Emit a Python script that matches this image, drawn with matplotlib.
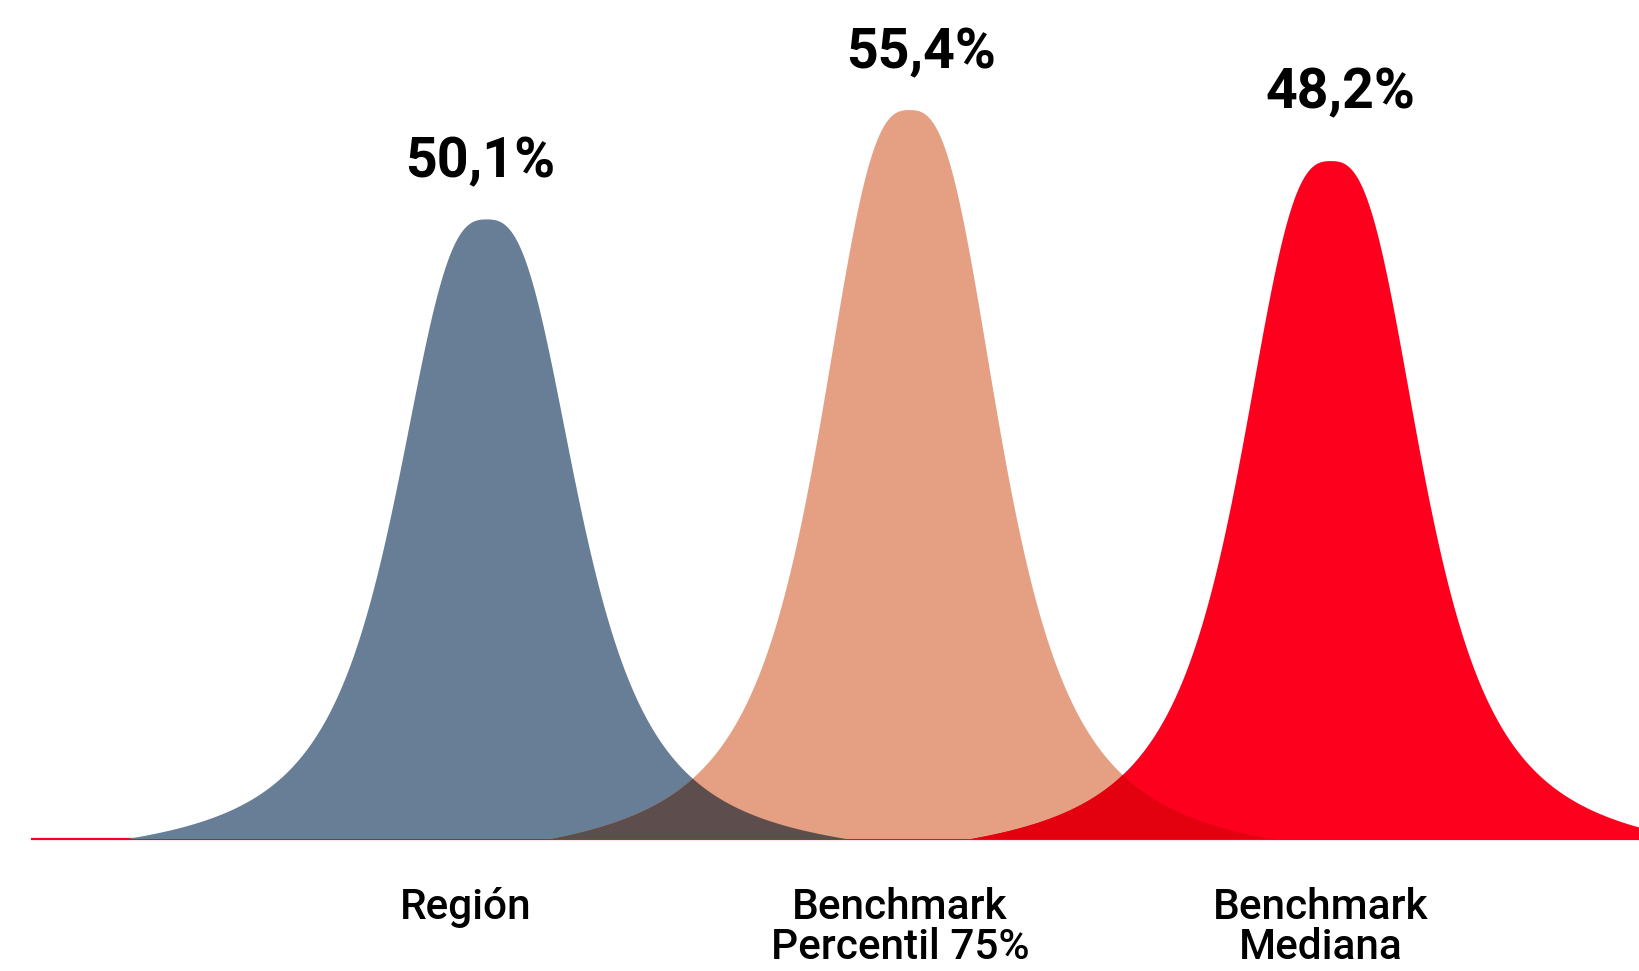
import matplotlib.pyplot as plt
import numpy as np

# distributions (x on a 0-100 scale, peak heights relative to the tallest)
names = ['Región', 'Benchmark\nPercentil 75%', 'Benchmark\nMediana']
values = ['50,1%', '55,4%', '48,2%']
means = [29.7, 55.5, 81.2]
heights = [0.85, 1.0, 0.93]
colors = ['#687D96', '#E5A083', '#FD001D']

# bell shape: flat-topped, heavy-ish shoulders, tails that die out at reach
bell_w, bell_p, reach = 6.16, 2.9, 21.96


def bell(x, m, h):
    d = np.abs(x - m)
    shape = 1.0 / (1.0 + 0.06 * (d / bell_w) ** 2 + (d / bell_w) ** bell_p)
    window = np.clip(1 - (d / reach) ** 4, 0, 1)
    return h * shape * window


def multiply(c1, c2):
    a = np.array(plt.matplotlib.colors.to_rgb(c1))
    b = np.array(plt.matplotlib.colors.to_rgb(c2))
    return tuple(a * b)


x = np.linspace(0, 100, 4000)
curves = [bell(x, m, h) for m, h in zip(means, heights)]

fig = plt.figure(figsize=(16.39, 9.71), dpi=100)
ax = fig.add_axes([0, 0, 1, 1])
ax.set_xlim(0, 100)
ax.set_ylim(-0.181, 1.151)
ax.axis('off')

# baseline
ax.plot([1.9, 100], [0, 0], color='#FD001D', lw=1.6, zorder=1, solid_capstyle='butt')

# the bells
for y, c in zip(curves, colors):
    ax.fill_between(x, 0, y, color=c, lw=0, zorder=2)

# overlaps look like multiply blending
for i in range(len(curves) - 1):
    ov = np.minimum(curves[i], curves[i + 1])
    ax.fill_between(x, 0, ov, color=multiply(colors[i], colors[i + 1]), lw=0, zorder=3)

# value labels above the peaks
label_dx = [-5, 8, 7]
label_dy = [30, 30, 38]
for m, h, v, dx, dy in zip(means, heights, values, label_dx, label_dy):
    ax.annotate(v, (m, h), xytext=(dx, dy), textcoords='offset points',
                ha='center', va='baseline', fontsize=40, fontweight='bold',
                family='Roboto')

# category labels under the baseline
name_dx = [-1.3, -0.6, -0.6]
for m, n, dx in zip(means, names, name_dx):
    ax.text(m + dx, -0.066, n, ha='center', va='top', fontsize=30.5,
            fontweight='medium', family='Roboto', linespacing=0.95)

fig.savefig('out.png', dpi=100)
